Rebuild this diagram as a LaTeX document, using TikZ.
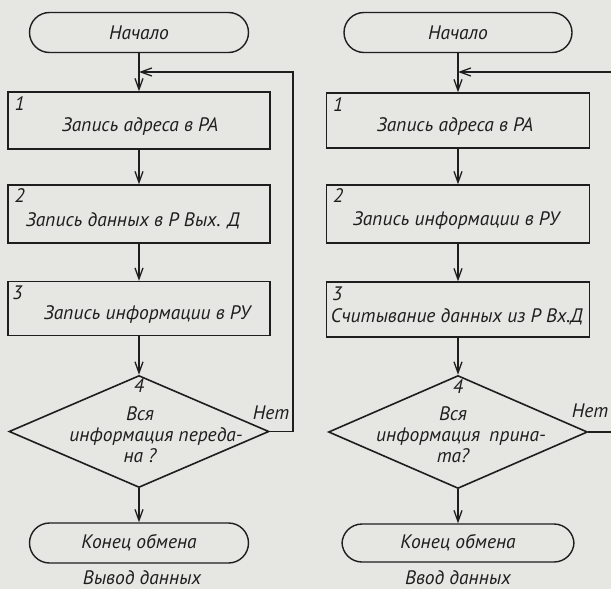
\documentclass[tikz,border=0pt]{standalone}
\usepackage{fontspec}
\setmainfont{PT Sans}
\usetikzlibrary{shapes.geometric,arrows.meta}
\definecolor{paper}{RGB}{230,230,226}
\definecolor{ink}{RGB}{30,30,30}
\begin{document}
\begin{tikzpicture}[x=1pt,y=-1pt,
  every node/.style={font=\fontsize{19.5}{21}\selectfont\itshape, text=ink, inner sep=0pt},
  term/.style={draw=ink, line width=1.4pt, rounded corners=20pt, minimum width=219pt, minimum height=40pt},
  proc/.style={draw=ink, line width=1.4pt, minimum width=262pt, minimum height=56pt},
  decis/.style={draw=ink, line width=1.6pt, diamond, minimum width=260pt, minimum height=112pt},
  num/.style={anchor=north west},
  flow/.style={draw=ink, line width=1.3pt, -{Straight Barb[length=11pt,width=8pt,line width=1.3pt]}},
  wire/.style={draw=ink, line width=1.3pt}
]
\fill[paper] (0,0) rectangle (611,589);
\useasboundingbox (0,0) rectangle (611,589);

% ---------- left chart ----------
\node[term] (s1) at (139,32.5) {};
\node (s1t) at (139,32.5) {Начало};
\node[proc, minimum height=57pt] (b1) at (139,120.5) {};
\node (b1t) at (140,127) {Запись адреса в РА};
\node[num] (b1n) at ([shift={(7,5)}]b1.north west) {1};
\node[proc, minimum height=58pt] (b2) at (139,214) {};
\node (b2t) at (133,221) {Запись данных в Р Вых. Д};
\node[num] (b2n) at ([shift={(7,4)}]b2.north west) {2};
\node[proc, minimum height=54pt] (b3) at (139,308.5) {};
\node (b3t) at (147,315) {Запись информации в РУ};
\node[num] (b3n) at ([shift={(5,5)}]b3.north west) {3};
\node[decis] (d1) at (139,431.5) {};
\node (d1n) at (139,386) {4};
\node[align=center] (d1t) at (156,435) {Вся\hspace*{32pt}\\информация переда-\\на ?\hspace*{32pt}};
\node (d1no) at (271,413) {Нет};
\node[term] (e1) at (139,543) {};
\node (e1t) at (139,543) {Конец обмена};
\node (cap1) at (142,578) {Вывод данных};

\draw[flow] (s1) -- (b1);
\draw[flow] (b1) -- (b2);
\draw[flow] (b2) -- (b3);
\draw[flow] (b3) -- (d1);
\draw[flow] (d1) -- (e1);
\coordinate (c1) at (293,431.5);
\coordinate (c2) at (293,72);
\coordinate (j1) at (139,72);
\draw[flow] (d1.east) -- (c1) -- (c2) -- (j1);

% ---------- right chart ----------
\node[term, minimum width=228pt] (s2) at (458,32.5) {};
\node (s2t) at (458,32.5) {Начало};
\node[proc, minimum width=263pt, minimum height=55pt] (b4) at (458,120.5) {};
\node (b4t) at (455,127) {Запись адреса в РА};
\node[num] (b4n) at ([shift={(7,5)}]b4.north west) {1};
\node[proc, minimum width=263pt, minimum height=58pt] (b5) at (458,214) {};
\node (b5t) at (456,221) {Запись информации в РУ};
\node[num] (b5n) at ([shift={(7,4)}]b5.north west) {2};
\node[proc, minimum width=263pt, minimum height=55pt] (b6) at (458,309.5) {};
\node (b6t) at (457,317) {Считывание данных из Р Вх.Д};
\node[num] (b6n) at ([shift={(6,5)}]b6.north west) {3};
\node[decis, minimum width=259pt, minimum height=113pt] (d2) at (458,432) {};
\node (d2n) at (458,387) {4};
\node[align=center] (d2t) at (461,435) {Вся\hspace*{16pt}\\информация\hspace{4pt} прина-\\та?\hspace*{16pt}};
\node (d2no) at (590,411) {Нет};
\node[term, minimum width=232pt, minimum height=38pt] (e2) at (458,543) {};
\node (e2t) at (458,543) {Конец обмена};
\node (cap2) at (458,578) {Ввод данных};

\draw[flow] (s2) -- (b4);
\draw[flow] (b4) -- (b5);
\draw[flow] (b5) -- (b6);
\draw[flow] (b6) -- (d2);
\draw[flow] (d2) -- (e2);
\coordinate (r1) at (611,432);
\coordinate (r2) at (611,72);
\coordinate (j2) at (458,72);
\draw[wire] (d2.east) -- (r1);
\draw[flow] (r2) -- (j2);
\end{tikzpicture}
\end{document}
